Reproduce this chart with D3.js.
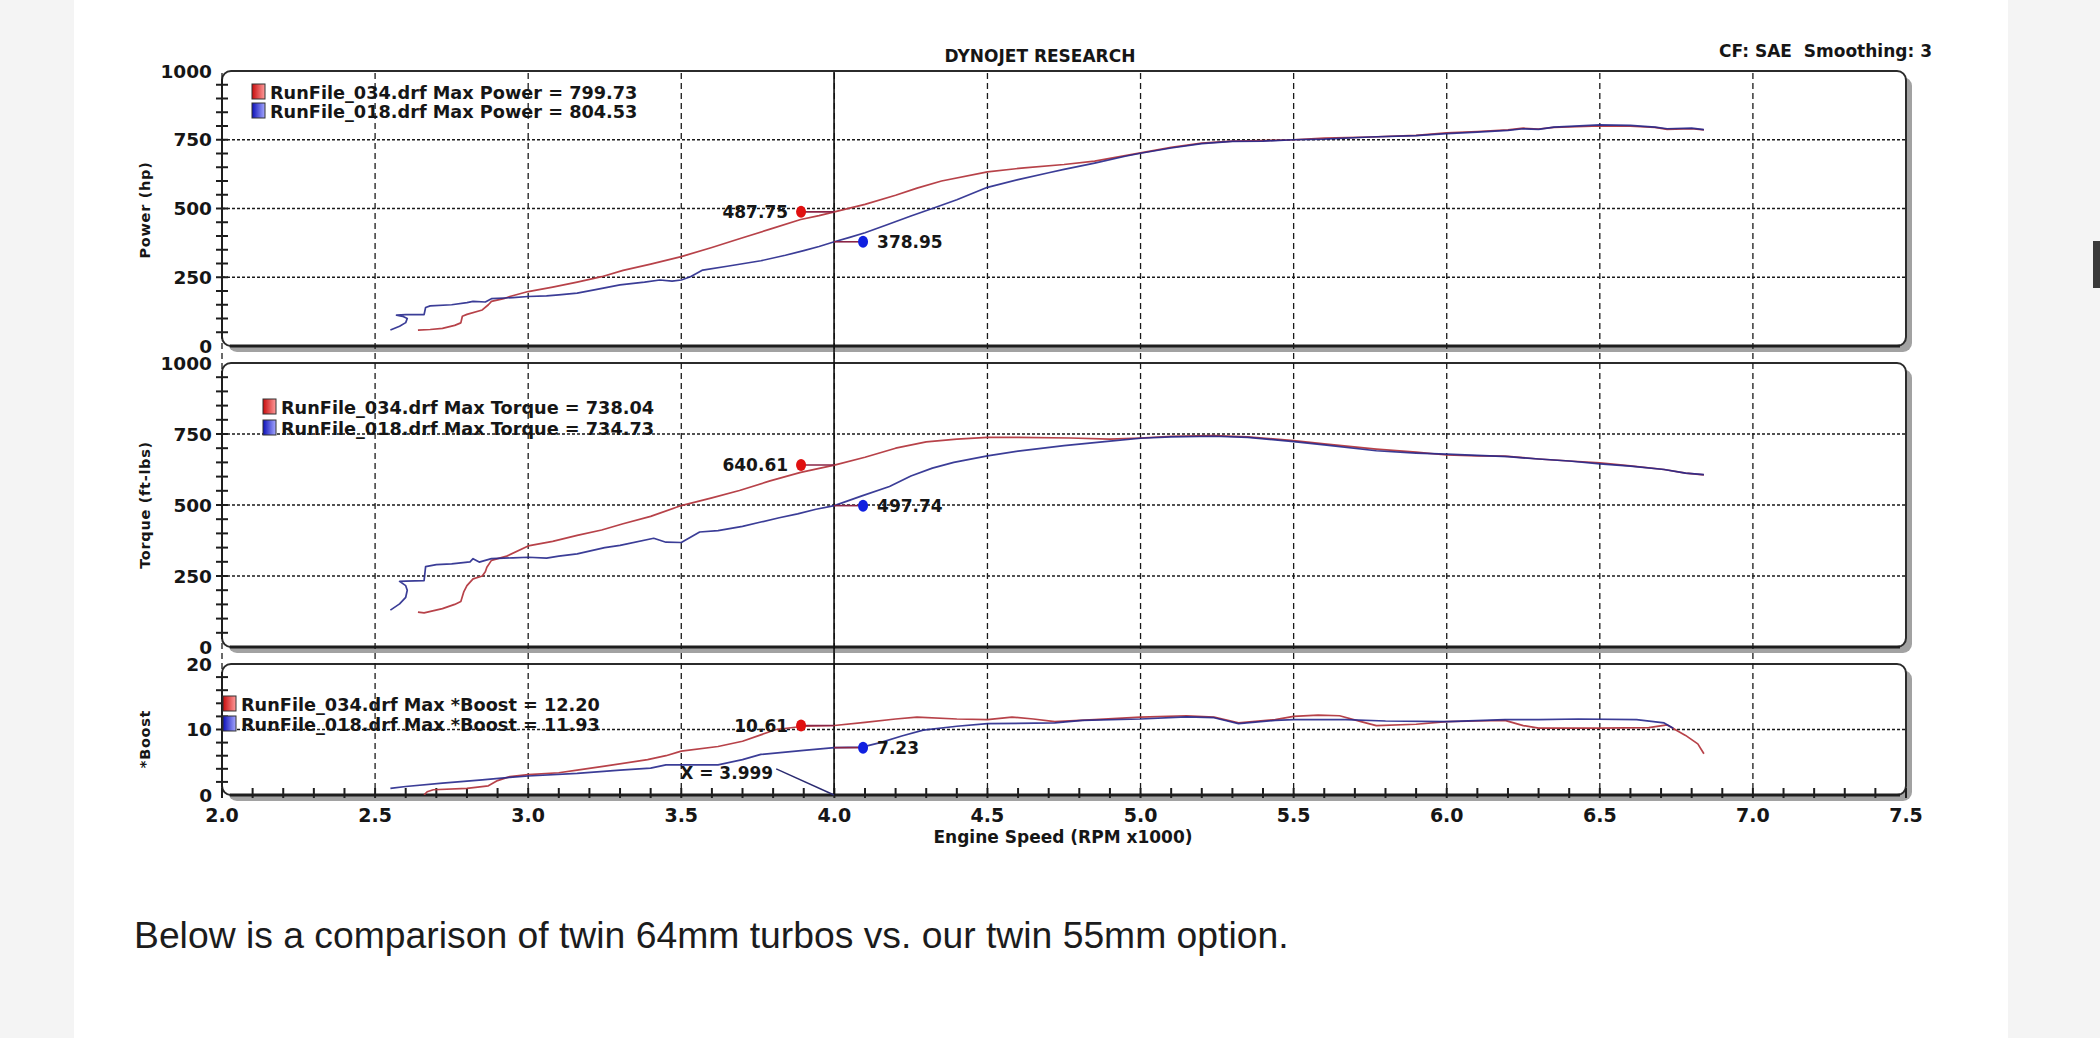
<!DOCTYPE html>
<html>
<head>
<meta charset="utf-8">
<script src="https://cdn.jsdelivr.net/npm/d3@7"></script>
<style>
  html, body { margin: 0; padding: 0; background: #f4f4f4; }
  svg { display: block; }
  text { font-family: "DejaVu Sans", Verdana, sans-serif; font-weight: bold; fill: #161616; }
  .caption { font-family: "Liberation Sans", Arial, sans-serif; font-weight: normal; fill: #1c1c1c; }
</style>
</head>
<body>
<div id="chart"></div>
<script>
// ---- data ----
const runNames = ['RunFile_034.drf', 'RunFile_018.drf'];
const rpmLabels = [2.0, 2.5, 3.0, 3.5, 4.0, 4.5, 5.0, 5.5, 6.0, 6.5, 7.0, 7.5];
const cursorRpm = 3.999;

const maxPower = [799.73, 804.53];
const maxTorque = [738.04, 734.73];
const maxBoost = [12.20, 11.93];

const cursorPower = [487.75, 378.95];
const cursorTorque = [640.61, 497.74];
const cursorBoost = [10.61, 7.23];

// [rpm x1000, hp]
const power034 = [[2.64,58],[2.68,60],[2.72,64],[2.76,75],[2.78,84],[2.785,108],[2.80,115],[2.85,131],[2.87,150],
  [2.88,162],[2.92,172],[2.94,180],[3.0,198],[3.08,214],[3.16,232],[3.24,252],[3.31,275],[3.40,298],[3.5,325],
  [3.6,358],[3.69,390],[3.79,425],[3.89,460],[3.95,474],[4.0,487.75],[4.1,515],[4.2,548],[4.27,574],[4.35,600],
  [4.5,633],[4.62,648],[4.75,660],[4.85,672],[4.95,692],[5.0,702],[5.1,722],[5.2,738],[5.3,745],[5.4,747],
  [5.5,750],[5.6,756],[5.75,760],[5.9,766],[6.0,775],[6.1,780],[6.2,786],[6.25,792],[6.3,789],[6.35,795],
  [6.5,800],[6.6,799],[6.68,795],[6.72,788],[6.8,790],[6.84,786]];
const power018 = [[2.55,58],[2.58,72],[2.6,85],[2.605,100],[2.59,108],[2.57,112],[2.6,114],[2.66,114],[2.665,140],
  [2.68,146],[2.75,150],[2.8,158],[2.82,162],[2.86,160],[2.88,172],[2.95,176],[3.0,180],[3.06,182],[3.1,186],
  [3.16,192],[3.22,205],[3.3,222],[3.38,232],[3.43,240],[3.47,236],[3.5,240],[3.53,252],[3.57,276],[3.65,290],
  [3.76,310],[3.84,330],[3.9,347],[3.95,362],[4.0,378.95],[4.05,395],[4.1,412],[4.17,440],[4.25,473],[4.32,500],
  [4.4,532],[4.5,577],[4.6,605],[4.7,630],[4.75,642],[4.85,665],[4.95,690],[5.0,701],[5.1,720],[5.2,736],
  [5.3,744],[5.4,745],[5.5,750],[5.6,752],[5.75,760],[5.9,765],[6.0,772],[6.1,778],[6.2,784],[6.25,790],
  [6.3,788],[6.35,796],[6.5,804],[6.6,802],[6.68,796],[6.72,790],[6.8,792],[6.84,787]];

// [rpm x1000, ft-lbs]
const torque034 = [[2.64,123],[2.66,120],[2.72,135],[2.76,150],[2.78,160],[2.79,195],[2.80,216],[2.82,240],
  [2.85,250],[2.86,265],[2.865,281],[2.88,305],[2.93,320],[3.0,356],[3.08,372],[3.16,393],[3.24,412],[3.31,434],
  [3.4,460],[3.5,498],[3.6,525],[3.69,551],[3.79,585],[3.89,615],[4.0,640.61],[4.1,668],[4.2,700],[4.3,722],
  [4.4,732],[4.5,738],[4.6,738],[4.77,736],[4.9,732],[5.0,736],[5.1,742],[5.24,744],[5.35,740],[5.5,727],
  [5.6,715],[5.77,697],[5.9,686],[6.0,676],[6.1,673],[6.19,672],[6.3,662],[6.4,655],[6.5,648],[6.6,638],
  [6.71,625],[6.78,612],[6.84,606]];
const torque018 = [[2.55,130],[2.58,152],[2.6,175],[2.605,200],[2.6,216],[2.58,231],[2.6,232],[2.66,234],
  [2.665,283],[2.7,290],[2.75,293],[2.81,300],[2.82,311],[2.84,299],[2.88,311],[2.95,314],[3.0,316],[3.06,313],
  [3.1,320],[3.16,328],[3.25,350],[3.3,358],[3.41,383],[3.45,369],[3.5,368],[3.56,405],[3.62,410],[3.7,425],
  [3.76,440],[3.82,455],[3.88,469],[3.94,485],[4.0,497.74],[4.09,532],[4.18,565],[4.25,602],[4.32,630],
  [4.39,650],[4.5,673],[4.6,690],[4.75,709],[4.9,725],[5.0,735],[5.1,740],[5.24,742],[5.35,738],[5.5,723],
  [5.6,712],[5.77,691],[5.9,683],[6.0,679],[6.1,675],[6.2,670],[6.3,662],[6.4,655],[6.5,645],[6.6,637],
  [6.71,625],[6.78,612],[6.84,607]];

// [rpm x1000, boost]
const boost034 = [[2.66,0],[2.67,0.5],[2.69,0.8],[2.8,1.0],[2.87,1.4],[2.9,2.2],[2.94,2.8],[3.0,3.1],[3.1,3.4],
  [3.16,3.8],[3.25,4.4],[3.39,5.4],[3.45,6.0],[3.5,6.7],[3.62,7.4],[3.7,8.2],[3.81,10.0],[3.9,10.5],[4.0,10.61],
  [4.1,11.1],[4.2,11.6],[4.27,11.9],[4.4,11.6],[4.5,11.5],[4.58,11.9],[4.65,11.6],[4.72,11.2],[4.85,11.5],
  [5.0,11.9],[5.15,12.1],[5.24,11.9],[5.32,11.0],[5.44,11.5],[5.5,12.0],[5.58,12.2],[5.65,12.1],[5.72,11.2],
  [5.77,10.6],[5.9,10.8],[6.0,11.2],[6.1,11.3],[6.19,11.4],[6.25,10.6],[6.3,10.2],[6.5,10.2],[6.66,10.3],
  [6.72,10.7],[6.78,9.1],[6.82,7.8],[6.84,6.3]];
const boost018 = [[2.55,1.0],[2.6,1.3],[2.72,1.8],[2.85,2.3],[2.94,2.7],[3.0,2.9],[3.16,3.3],[3.3,3.8],[3.4,4.1],
  [3.45,4.6],[3.62,4.6],[3.7,5.4],[3.76,6.2],[3.9,6.8],[4.0,7.23],[4.09,7.3],[4.15,8.0],[4.22,9.0],[4.29,9.9],
  [4.4,10.5],[4.5,10.9],[4.72,11.0],[4.81,11.4],[5.0,11.6],[5.15,11.93],[5.24,11.8],[5.32,10.9],[5.44,11.4],
  [5.5,11.5],[5.67,11.5],[5.8,11.3],[6.0,11.2],[6.19,11.5],[6.3,11.5],[6.43,11.6],[6.62,11.5],[6.71,11.0],
  [6.74,10.2]];

// cursor readout "X = 3.999" (label anchor and leader start, in rpm / boost units)
const xReadoutLabel = [3.80, 2.4];
const xReadoutLeader = [3.81, 4.0];

const caption = 'Below is a comparison of twin 64mm turbos vs. our twin 55mm option.';

// ---- layout ----
const W = 2100, H = 1038;
const runColors = ['#b3383f', '#26288c'];
const markerColors = ['#e01010', '#1020e0'];

const svg = d3.select('#chart').append('svg')
    .attr('width', W)
    .attr('height', H);

// page: grey gutters, white content card
svg.append('rect').attr('width', W).attr('height', H).attr('fill', '#f4f4f4');
svg.append('rect').attr('x', 74).attr('width', 2008 - 74).attr('height', H).attr('fill', '#ffffff');
svg.append('rect').attr('x', 2093).attr('y', 241).attr('width', 7).attr('height', 47).attr('fill', '#3a3a3a');

const x = d3.scaleLinear().domain([2.0, 7.5]).range([222, 1906]);

const panels = [
    { title: 'Power (hp)', label: 'Max Power', top: 71, bottom: 346, max: 1000, major: 250, minor: 50,
      series: [power034, power018], maxVals: maxPower, cursorVals: cursorPower, titleY: 210,
      legendX: 252, legendY: 99, legendGap: 19, fmt: d3.format('.2f') },
    { title: 'Torque (ft-lbs)', label: 'Max Torque', top: 363, bottom: 647, max: 1000, major: 250, minor: 50,
      series: [torque034, torque018], maxVals: maxTorque, cursorVals: cursorTorque, titleY: 505,
      legendX: 263, legendY: 414, legendGap: 21, fmt: d3.format('.2f') },
    { title: '*Boost', label: 'Max *Boost', top: 664, bottom: 795, max: 20, major: 10, minor: 2, titleY: 739,
      series: [boost034, boost018], maxVals: maxBoost, cursorVals: cursorBoost,
      legendX: 223, legendY: 711, legendGap: 20, fmt: d3.format('.2f') }
];

panels.forEach(p => {
    p.y = d3.scaleLinear().domain([0, p.max]).range([p.bottom, p.top]);
});

const defs = svg.append('defs');
[['gradRed', '#c80c0c', '#ff9c9c'], ['gradBlue', '#0c10b8', '#a6a8ff']].forEach(([id, c0, c1]) => {
    const g = defs.append('linearGradient').attr('id', id).attr('x1', 0).attr('x2', 1).attr('y1', 0).attr('y2', 0);
    g.append('stop').attr('offset', '0%').attr('stop-color', c0);
    g.append('stop').attr('offset', '100%').attr('stop-color', c1);
});

const x0 = x.range()[0], x1 = x.range()[1];

// shadows and frames
panels.forEach((p, i) => {
    svg.append('rect')
        .attr('x', x0 + 6).attr('y', p.top + 6)
        .attr('width', x1 - x0).attr('height', p.bottom - p.top)
        .attr('rx', 9)
        .attr('fill', '#a2a2a2');

    svg.append('rect')
        .attr('x', x0).attr('y', p.top)
        .attr('width', x1 - x0).attr('height', p.bottom - p.top)
        .attr('rx', 9)
        .attr('fill', '#ffffff')
        .attr('stroke', '#2b2b2b')
        .attr('stroke-width', 2);

    svg.append('line')
        .attr('x1', x0 + 8).attr('x2', x1 - 6)
        .attr('y1', p.bottom).attr('y2', p.bottom)
        .attr('stroke', '#1e1e1e')
        .attr('stroke-width', 3);

    defs.append('clipPath').attr('id', 'clip' + i)
        .append('rect')
        .attr('x', x0).attr('y', p.top)
        .attr('width', x1 - x0).attr('height', p.bottom - p.top);
});

const top0 = panels[0].top, bottom2 = panels[2].bottom;

// vertical dashed grid, running through all three panels
svg.append('g')
    .selectAll('line')
    .data(rpmLabels.filter(r => r < 7.5))
    .enter()
    .append('line')
    .attr('x1', d => x(d)).attr('x2', d => x(d))
    .attr('y1', top0 + 2).attr('y2', bottom2)
    .attr('stroke', '#1a1a1a')
    .attr('stroke-width', 1.3)
    .attr('stroke-dasharray', '6,4');

// horizontal dotted grid
panels.forEach(p => {
    const levels = d3.range(p.major, p.max, p.major);
    svg.append('g')
        .selectAll('line')
        .data(levels)
        .enter()
        .append('line')
        .attr('x1', x0).attr('x2', x1)
        .attr('y1', d => p.y(d)).attr('y2', d => p.y(d))
        .attr('stroke', '#1a1a1a')
        .attr('stroke-width', 1.4)
        .attr('stroke-dasharray', '3,2');
});

// y axes: ticks + labels
panels.forEach(p => {
    const g = svg.append('g');
    g.append('line')
        .attr('x1', x0).attr('x2', x0)
        .attr('y1', p.top + 8).attr('y2', p.bottom - 8)
        .attr('stroke', '#1e1e1e').attr('stroke-width', 2);

    g.selectAll('.ytick')
        .data(d3.range(p.minor, p.max, p.minor))
        .enter()
        .append('line')
        .attr('x1', x0 - 6).attr('x2', x0 + 6)
        .attr('y1', d => p.y(d)).attr('y2', d => p.y(d))
        .attr('stroke', '#1e1e1e').attr('stroke-width', 2);

    g.selectAll('.ylab')
        .data(d3.range(0, p.max + 1, p.major))
        .enter()
        .append('text')
        .attr('x', 212)
        .attr('y', d => p.y(d))
        .attr('dy', '0.36em')
        .attr('text-anchor', 'end')
        .style('font-size', '18.5px')
        .text(d => d);

    g.append('text')
        .attr('transform', `translate(150,${p.titleY}) rotate(-90)`)
        .attr('text-anchor', 'middle')
        .style('font-size', '14.5px')
        .style('letter-spacing', '0.7px')
        .text(p.title);
});

// x axis ticks (bottom panel) and labels
const xTicks = d3.range(20, 76).map(v => v / 10);
svg.append('g')
    .selectAll('line')
    .data(xTicks)
    .enter()
    .append('line')
    .attr('x1', d => x(d)).attr('x2', d => x(d))
    .attr('y1', bottom2 - 7).attr('y2', bottom2 + 3)
    .attr('stroke', '#1e1e1e')
    .attr('stroke-width', 2);

svg.append('g')
    .selectAll('text')
    .data(rpmLabels)
    .enter()
    .append('text')
    .attr('x', d => x(d))
    .attr('y', 822)
    .attr('text-anchor', 'middle')
    .style('font-size', '19px')
    .text(d => d.toFixed(1));

svg.append('text')
    .attr('x', 1063).attr('y', 843)
    .attr('text-anchor', 'middle')
    .style('font-size', '17px')
    .text('Engine Speed (RPM x1000)');

// header
svg.append('text')
    .attr('x', 1040).attr('y', 62)
    .attr('text-anchor', 'middle')
    .style('font-size', '17px')
    .text('DYNOJET RESEARCH');

svg.append('text')
    .attr('x', 1932).attr('y', 57)
    .attr('text-anchor', 'end')
    .style('font-size', '17px')
    .style('white-space', 'pre')
    .text('CF: SAE  Smoothing: 3');

// cursor line
const cx = x(cursorRpm);
svg.append('line')
    .attr('x1', cx).attr('x2', cx)
    .attr('y1', top0 + 1).attr('y2', bottom2)
    .attr('stroke', '#111').attr('stroke-width', 1.6);

// curves
const line = d3.line().curve(d3.curveLinear);
panels.forEach((p, i) => {
    const g = svg.append('g').attr('clip-path', `url(#clip${i})`);
    p.series.forEach((s, k) => {
        g.append('path')
            .datum(s)
            .attr('d', line.x(d => x(d[0])).y(d => p.y(d[1])))
            .attr('fill', 'none')
            .attr('stroke', runColors[k])
            .attr('stroke-width', 1.7)
            .attr('stroke-linejoin', 'round')
            .attr('opacity', k === 0 ? 0.95 : 0.9);
    });
});

// cursor readouts: leader, marker, value
const markerDx = [-33, 29];
panels.forEach(p => {
    p.cursorVals.forEach((v, k) => {
        const my = p.y(v);
        const mx = cx + markerDx[k];
        svg.append('line')
            .attr('x1', Math.min(mx, cx)).attr('x2', Math.max(mx, cx))
            .attr('y1', my).attr('y2', my)
            .attr('stroke', '#8a2446').attr('stroke-width', 1.6);
        svg.append('ellipse')
            .attr('cx', mx).attr('cy', my)
            .attr('rx', 5).attr('ry', 6)
            .attr('fill', markerColors[k]);
        svg.append('text')
            .attr('x', k === 0 ? mx - 13 : mx + 14)
            .attr('y', my)
            .attr('dy', '0.36em')
            .attr('text-anchor', k === 0 ? 'end' : 'start')
            .style('font-size', '17px')
            .text(p.fmt(v));
    });
});

// X = 3.999 readout in the boost panel
const pb = panels[2];
svg.append('line')
    .attr('x1', x(xReadoutLeader[0])).attr('y1', pb.y(xReadoutLeader[1]))
    .attr('x2', cx).attr('y2', pb.y(0))
    .attr('stroke', '#2a2a70').attr('stroke-width', 1.4);
svg.append('text')
    .attr('x', x(xReadoutLabel[0])).attr('y', pb.y(xReadoutLabel[1]))
    .attr('text-anchor', 'end')
    .style('font-size', '17px')
    .text('X = ' + cursorRpm.toFixed(3));

// legends
const grads = ['url(#gradRed)', 'url(#gradBlue)'];
panels.forEach(p => {
    const legend = svg.append('g').attr('class', 'legend');
    runNames.forEach((name, k) => {
        const by = p.legendY + k * p.legendGap;
        legend.append('rect')
            .attr('x', p.legendX).attr('y', by - 15)
            .attr('width', 13).attr('height', 15)
            .attr('fill', grads[k])
            .attr('stroke', '#333').attr('stroke-width', 1);
        legend.append('text')
            .attr('x', p.legendX + 18).attr('y', by)
            .style('font-size', '17.7px')
            .text(`${name} ${p.label} = ${p.fmt(p.maxVals[k])}`);
    });
});

// caption below the image
svg.append('text')
    .attr('class', 'caption')
    .attr('x', 134).attr('y', 948)
    .style('font-size', '37.3px')
    .text(caption);
</script>
</body>
</html>
